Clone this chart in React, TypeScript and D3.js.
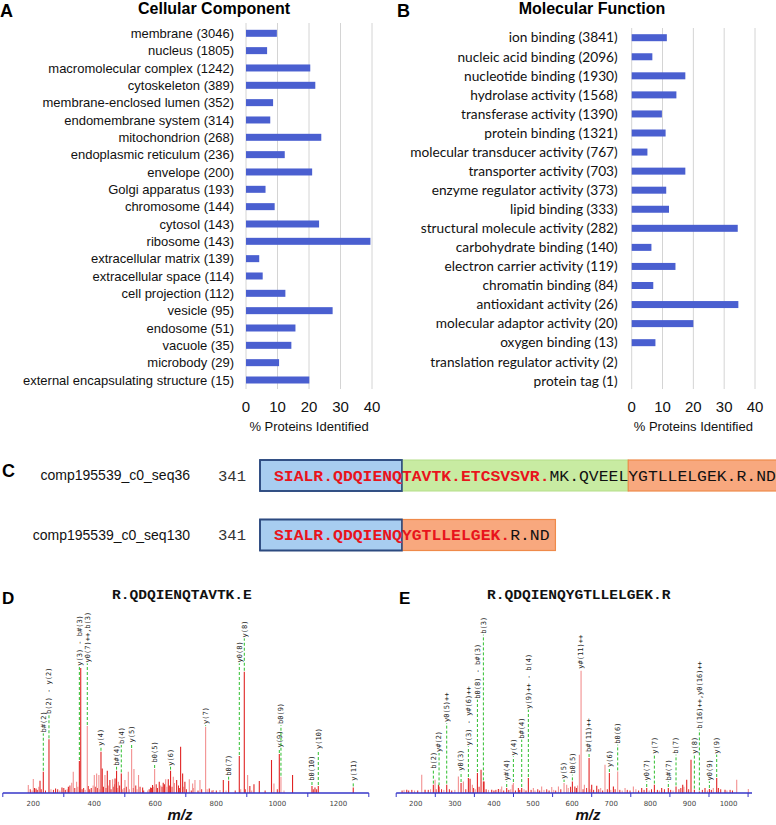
import React from "react";
import * as d3 from "d3";

// ---------- Panel A / B data ----------
const ccCategories = [
  "membrane (3046)", "nucleus (1805)", "macromolecular complex (1242)", "cytoskeleton (389)",
  "membrane-enclosed lumen (352)", "endomembrane system (314)", "mitochondrion (268)",
  "endoplasmic reticulum (236)", "envelope (200)", "Golgi apparatus (193)", "chromosome (144)",
  "cytosol (143)", "ribosome (143)", "extracellular matrix (139)", "extracellular space (114)",
  "cell projection (112)", "vesicle (95)", "endosome (51)", "vacuole (35)", "microbody (29)",
  "external encapsulating structure (15)",
];
const ccValues = [9.8, 6.7, 20.4, 22, 8.6, 7.7, 23.9, 12.3, 21, 6.2, 9.1, 23.2, 39.5, 4.2, 5.3, 12.5, 27.5, 15.7, 14.4, 10.5, 20.1];

const mfCategories = [
  "ion binding (3841)", "nucleic acid binding (2096)", "nucleotide binding (1930)",
  "hydrolase activity (1568)", "transferase activity (1390)", "protein binding (1321)",
  "molecular transducer activity (767)", "transporter activity (703)",
  "enzyme regulator activity (373)", "lipid binding (333)", "structural molecule activity (282)",
  "carbohydrate binding (140)", "electron carrier activity (119)", "chromatin binding (84)",
  "antioxidant activity (26)", "molecular adaptor activity (20)", "oxygen binding (13)",
  "translation regulator activity (2)", "protein tag (1)",
];
const mfValues = [11.4, 6.7, 17.4, 14.5, 9.8, 11, 5.1, 17.4, 11.2, 12.1, 34.4, 6.4, 14.2, 7, 34.6, 20, 7.7, 0, 0];
const pctTicks = [0, 10, 20, 30, 40];

// ---------- Panel C data ----------
const seqNames = ["comp195539_c0_seq36", "comp195539_c0_seq130"];
const seqStart = ["341", "341"];
const seqRed = ["SIALR.QDQIENQTAVTK.ETCSVSVR.", "SIALR.QDQIENQYGTLLELGEK."];
const seqBlack = ["MK.QVEELYGTLLELGEK.R.ND", "R.ND"];
// exon blocks as [fromChar, toChar, kind]
const seqBlocks: [number, number, string][][] = [
  [[0, 13, "blue"], [13, 36, "green"], [36, 52, "orange"]],
  [[0, 13, "blue"], [13, 28.6, "orange"]],
];

// ---------- Panel D data (label, m/z, relative intensity, label level, tone) ----------
const dTitle = "R.QDQIENQTAVTK.E";
const dIons: [string, number, number, number, string][] = [
  ["b#(2)", 232.8, 17, 47.7, "s"],
  ["b(2) - y(2)", 251.4, 43, 62.4, "s"],
  ["y(3) - b#(3)", 351, 25.6, 101, "s"],
  ["y0(7)++,b(3)", 377, 53.6, 103.7, "l"],
  ["y(4)", 421.9, 33, 37, "s"],
  ["b#(4)", 473, 17.9, 21, "s"],
  ["b(4)", 488.5, 15.7, 38.4, "s"],
  ["y(5)", 522.4, 35.2, 39.7, "l"],
  ["b0(5)", 597.8, 19.2, 23.7, "l"],
  ["y(6)", 650, 17.9, 21, "s"],
  ["y(7)", 765, 53, 54.4, "l"],
  ["b0(7)", 840.4, 9.9, 13, "s"],
  ["y0(8)", 875.4, 29.6, 103.7, "s"],
  ["y(8)", 891.8, 97, 123.7, "s"],
  ["y(9)", 1006.6, 31.2, 35.7, "s"],
  ["b0(9)", 1012, 13, 54.4, "l"],
  ["b0(10)", 1113.7, 5.6, 9, "s"],
  ["y(10)", 1134.4, 5.6, 34.4, "s"],
  ["y(11)", 1249, 4.5, 9, "s"],
];
const dPeaks: [number, number, string][] = [
  [183.6, 6.4, "l"], [200, 11.2, "l"], [209, 3.7, "s"], [222, 9.9, "s"], [273, 3.7, "s"],
  [294, 4.5, "s"], [315, 5, "s"], [326, 8.3, "l"], [331, 17, "l"], [342, 9, "l"],
  [355.5, 100, "s"], [380, 5.6, "s"], [400, 14.4, "l"], [407.6, 15.7, "l"], [415, 14.4, "l"],
  [426, 19.7, "s"], [435, 14.4, "l"], [442.6, 17.9, "s"], [451, 10.4, "s"], [460, 11, "l"],
  [468, 11.7, "s"], [479, 9, "l"], [500.5, 10.4, "l"], [511.5, 17, "l"], [530, 19.2, "l"],
  [545, 14.4, "l"], [558.5, 4.5, "s"], [584.7, 4.5, "s"], [591, 6.4, "s"], [613, 9, "s"],
  [626, 8.3, "s"], [634, 11, "l"], [642.6, 11, "s"], [659, 13, "l"], [670, 10.4, "s"],
  [683, 37, "s"], [689.6, 15.7, "s"], [697, 9, "s"], [711.5, 11, "l"], [722.4, 7.7, "l"],
  [730, 10.4, "l"], [746.4, 10.4, "l"], [777, 3.7, "s"], [790, 2.4, "l"], [812, 2.4, "l"],
  [823, 10.4, "s"], [880, 3, "l"], [902.7, 14.4, "l"], [910, 5.6, "s"], [923.5, 7, "s"],
  [941, 9.6, "s"], [981, 26.4, "s"], [989, 7.7, "l"], [1050, 14.4, "s"], [1123.5, 4.5, "s"],
];
const dNoise: [number, number][] = [
  [190, 3], [196, 2], [204, 4], [213, 2.5], [218, 5], [226, 3], [240, 2], [258, 3], [266, 2.5],
  [280, 3], [287, 2], [300, 4], [305, 2.5], [311, 3], [320, 6], [336, 4], [346, 5], [360, 3],
  [365, 4], [370, 2.5], [385, 3], [390, 4], [396, 6], [403, 5], [410, 4], [418, 3], [430, 5],
  [438, 4], [446, 6], [455, 3], [462, 5], [466, 7], [478, 4], [483, 6], [493, 3], [498, 4],
  [505, 5], [515, 3], [528, 4], [536, 6], [540, 3], [550, 5], [562, 2], [575, 2], [580, 3],
  [588, 4], [595, 5], [603, 7], [607, 4], [618, 6], [622, 5], [630, 7], [638, 5], [646, 6],
  [655, 5], [663, 8], [676, 6], [680, 4], [693, 5], [702, 3], [718, 2], [725, 4], [740, 2],
  [752, 3], [770, 3], [786, 2], [800, 2], [832, 2], [862, 2], [895, 3], [916, 2], [960, 2],
  [1000, 3], [1022, 2], [1118, 3], [1129, 3],
];
const dTickMarks = [100, 300, 500, 700, 900, 1100, 1300];
const dTickLabels = [200, 400, 600, 800, 1000, 1200];

// ---------- Panel E data ----------
const eTitle = "R.QDQIENQYGTLLELGEK.R";
const eIons: [string, number, number, number, string][] = [
  ["b(2)", 245, 6.7, 18.7, "s"],
  ["y#(2)", 259.6, 5.3, 32, "s"],
  ["y0(5)++", 279.2, 6.7, 56, "s"],
  ["y0(3)", 315.9, 8, 17, "s"],
  ["y(3) - y#(6)++", 334.6, 12, 37.3, "s"],
  ["b0(8) - b#(3)", 357.7, 16, 74.7, "s"],
  ["b(3)", 373, 9.3, 126.7, "s"],
  ["y#(4)", 432.6, 4, 9.3, "s"],
  ["y(4)", 449.7, 8, 29.3, "l"],
  ["b#(4)", 471, 4, 42.7, "s"],
  ["y(9)++ - b(4)", 488, 12, 66.7, "s"],
  ["y(5)", 579.3, 8, 10.7, "l"],
  ["b0(5)", 600.6, 9.3, 14.7, "s"],
  ["y#(11)++", 622.8, 97.9, 98.7, "l"],
  ["b#(11)++", 643.3, 28, 32, "s"],
  ["y(6)", 695.2, 16, 20, "s"],
  ["b0(6)", 716.5, 17.3, 38.7, "l"],
  ["y0(7)", 790.7, 4, 9.3, "s"],
  ["y(7)", 810.3, 6.7, 30.7, "s"],
  ["b#(7)", 846, 4, 9.3, "s"],
  ["b(7)", 865.7, 5.3, 30.7, "s"],
  ["y(8)", 912.6, 2.7, 30.7, "s"],
  ["b(16)++,y0(16)++", 925.4, 1.3, 50.7, "s"],
  ["y0(9)", 951, 3.2, 9.3, "s"],
  ["y(9)", 969.7, 12, 30.7, "s"],
];
const ePeaks: [number, number, string][] = [
  [177, 2.7, "s"], [215.3, 14.7, "l"], [223.8, 2.7, "s"], [249.4, 10.7, "l"], [258, 6.7, "s"],
  [309, 13.3, "l"], [321.8, 9.3, "l"], [338.9, 11.5, "s"], [344.8, 6.7, "l"], [367, 18.7, "s"],
  [374.7, 9.3, "s"], [394.3, 2.7, "s"], [411.3, 3.2, "s"], [419.8, 5.3, "l"], [447, 6.7, "l"],
  [462.5, 4, "s"], [500.8, 4, "l"], [522, 5.3, "l"], [547.8, 4.8, "l"], [564.9, 5.3, "l"],
  [586, 6.7, "l"], [607, 5.3, "s"], [618.5, 30.7, "l"], [631.3, 6.7, "l"], [650, 6.7, "s"],
  [662.9, 5.9, "s"], [684, 22.7, "l"], [705.5, 5.3, "s"], [735.3, 4, "l"], [756.6, 5.3, "l"],
  [777.9, 4, "s"], [829, 4, "s"], [882.8, 6.7, "s"], [893, 10.7, "s"], [904, 26.7, "s"],
  [939.8, 4, "s"], [961, 4, "l"], [974, 4, "s"], [991, 2.7, "s"], [1020.9, 10.7, "l"],
  [1050.6, 3.2, "l"],
];
const eNoise: [number, number][] = [
  [165, 2], [170, 2.5], [182, 2], [190, 2.5], [197, 2], [205, 2], [232, 2.5], [238, 3], [252, 3],
  [266, 3], [272, 2.5], [286, 3], [292, 2], [300, 2.5], [328, 3], [348, 4], [352, 3], [362, 5],
  [380, 3], [386, 2.5], [400, 2], [405, 2.5], [416, 3], [425, 2], [438, 2.5], [443, 3], [455, 2],
  [466, 2.5], [477, 3], [482, 2], [495, 2.5], [505, 2], [512, 3], [517, 2], [528, 2.5], [535, 3],
  [541, 2], [553, 2.5], [558, 2], [571, 3], [590, 4], [596, 5], [611, 4], [614, 6], [628, 3],
  [637, 4], [646, 3], [655, 2.5], [668, 3], [673, 4], [678, 2], [690, 3], [699, 2.5], [710, 3],
  [722, 2.5], [728, 2], [741, 2.5], [748, 2], [763, 3], [770, 2], [784, 2.5], [797, 2], [803, 3],
  [818, 2.5], [823, 2], [836, 3], [852, 2.5], [858, 2], [873, 3], [878, 4], [886, 5], [898, 3],
  [933, 2.5], [946, 2], [956, 2.5], [980, 3], [996, 2], [1004, 2.5], [1010, 2],
];
const eTickMarks = [150, 250, 350, 450, 550, 650, 750, 850, 950, 1050];
const eTickLabels = [200, 300, 400, 500, 600, 700, 800, 900, 1000];

// ---------- styles ----------
const BAR = "#4a5fd0";
const GRID = "#d4d4d4";
const RED_S = "#e02424";
const RED_L = "#f29090";
const GREEN = "#2fbf2f";
const AXIS_BLUE = "#3636c8";
const ARIAL = "'Liberation Sans', Arial, sans-serif";
const MONO = "'Liberation Mono', 'Courier New', monospace";

type BarProps = {
  cats: string[]; vals: number[]; x0: number; x1: number; yTop: number; yBot: number;
  gridTop: number; labelRight: number; labelFont: string; labelSize: number;
  letter: string; letterX: number; title: string; titleX: number;
};

function BarPanel(p: BarProps) {
  const x = d3.scaleLinear().domain([0, 40]).range([p.x0, p.x1]);
  const y = d3.scalePoint<string>().domain(p.cats).range([p.yTop, p.yBot]);
  const bh = 7;
  return (
    <g>
      <text x={p.letterX} y={17} fontFamily={ARIAL} fontWeight="bold" fontSize={18}>{p.letter}</text>
      <text x={p.titleX} y={14} fontFamily={ARIAL} fontWeight="bold" fontSize={16} textAnchor="middle">{p.title}</text>
      {pctTicks.map((t) => (
        <line key={t} x1={x(t)} x2={x(t)} y1={p.gridTop} y2={389} stroke={GRID} strokeWidth={1} />
      ))}
      {p.cats.map((c, i) => (
        <g key={c}>
          <text x={p.labelRight} y={(y(c) as number)} dy="0.35em" textAnchor="end"
            fontFamily={p.labelFont} fontSize={p.labelSize} fill="#111">{c}</text>
          {p.vals[i] > 0 && (
            <rect x={x(0)} y={(y(c) as number) - bh / 2} width={x(p.vals[i]) - x(0)} height={bh} fill={BAR} />
          )}
        </g>
      ))}
      {pctTicks.map((t) => (
        <text key={t} x={x(t)} y={412} textAnchor="middle" fontFamily={ARIAL} fontSize={15} fill="#111">{t}</text>
      ))}
      <text x={(x(0) + x(40)) / 2} y={431} textAnchor="middle" fontFamily={ARIAL} fontSize={13} fill="#111">% Proteins Identified</text>
    </g>
  );
}

const blockFill: Record<string, [string, string, number]> = {
  blue: ["#a8cdf0", "#2c4a80", 1.6],
  green: ["#c8eba2", "#b4de88", 1],
  orange: ["#f8a87e", "#ef8a4a", 1.2],
};

function SeqPanel() {
  const adv = 9.84;
  const textX = 274;
  const rows = [475.5, 535];
  const bh = 31;
  return (
    <g>
      <text x={2} y={477} fontFamily={ARIAL} fontWeight="bold" fontSize={18}>C</text>
      {rows.map((cy, r) => {
        const cx = (i: number) => textX + i * adv;
        return (
          <g key={r}>
            {seqBlocks[r].map(([a, b, k], j) => {
              const x0 = j === 0 ? 260 : cx(a);
              const x1 = cx(b);
              const [fill, stroke, sw] = blockFill[k];
              return <rect key={j} x={x0} y={cy - bh / 2} width={x1 - x0} height={bh} fill={fill} stroke={stroke} strokeWidth={sw} />;
            })}
            {seqBlocks[r].filter((bk) => bk[2] === "blue").map(([a, b], j) => (
              <rect key={"o" + j} x={260} y={cy - bh / 2} width={cx(b) - 260} height={bh} fill="none" stroke="#2c4a80" strokeWidth={1.6} />
            ))}
            <text x={190} y={cy} dy="0.35em" textAnchor="end" fontFamily={ARIAL} fontSize={14} fill="#111">{seqNames[r]}</text>
            <text x={218} y={cy} dy="0.35em" fontFamily={MONO} fontSize={15} fill="#333"
              textLength={3 * adv * 0.95} lengthAdjust="spacingAndGlyphs">{seqStart[r]}</text>
            <text x={cx(0)} y={cy} dy="0.35em" fontFamily={MONO} fontWeight="bold" fontSize={15} fill="#e8141c"
              textLength={seqRed[r].length * adv} lengthAdjust="spacingAndGlyphs">{seqRed[r]}</text>
            <text x={cx(seqRed[r].length)} y={cy} dy="0.35em" fontFamily={MONO} fontSize={15} fill="#111"
              textLength={seqBlack[r].length * adv} lengthAdjust="spacingAndGlyphs">{seqBlack[r]}</text>
          </g>
        );
      })}
    </g>
  );
}

type SpecProps = {
  letter: string; letterX: number; title: string; titleX: number;
  domain: [number, number]; range: [number, number];
  ions: [string, number, number, number, string][];
  peaks: [number, number, string][]; noise: [number, number][];
  tickMarks: number[]; tickLabels: number[]; mzX: number;
};

function Spectrum(p: SpecProps) {
  const x = d3.scaleLinear().domain(p.domain).range(p.range);
  const y = d3.scaleLinear().domain([0, 100]).range([793, 668]);
  const base = y(0);
  const tone = (t: string) => (t === "l" ? RED_L : RED_S);
  return (
    <g>
      <text x={p.letterX} y={604} fontFamily={ARIAL} fontWeight="bold" fontSize={17}>{p.letter}</text>
      <text x={p.titleX} y={599} fontFamily={MONO} fontWeight="bold" fontSize={12} fill="#111"
        textLength={p.title.length * 8.74} lengthAdjust="spacingAndGlyphs">{p.title}</text>
      {p.noise.map(([m, v], i) => (
        <line key={"n" + i} x1={x(m)} x2={x(m)} y1={base} y2={y(v)} stroke={i % 3 === 1 ? RED_L : RED_S} strokeWidth={1} />
      ))}
      {p.peaks.map(([m, v, t], i) => (
        <line key={"p" + i} x1={x(m)} x2={x(m)} y1={base} y2={y(v)} stroke={tone(t)} strokeWidth={1.1} />
      ))}
      {p.ions.map(([lab, m, v, lvl, t], i) => {
        const xx = x(m);
        const yl = y(lvl);
        return (
          <g key={"i" + i}>
            <line x1={xx} x2={xx} y1={base} y2={y(v)} stroke={tone(t)} strokeWidth={1.1} />
            {lvl > v + 1 && (
              <line x1={xx} x2={xx} y1={y(v) - 1} y2={yl} stroke={GREEN} strokeWidth={1} strokeDasharray="3,2" />
            )}
            <text transform={`translate(${xx + 2.4},${yl - 1}) rotate(-90)`} fontFamily="'DejaVu Sans Mono', monospace"
              fontSize={7} fill="#222">{lab}</text>
          </g>
        );
      })}
      <line x1={p.range[0]} x2={p.range[1]} y1={base} y2={base} stroke={AXIS_BLUE} strokeWidth={1.5} />
      {p.tickMarks.map((t) => (
        <line key={"t" + t} x1={x(t)} x2={x(t)} y1={base} y2={base + 4} stroke={AXIS_BLUE} strokeWidth={1} />
      ))}
      {p.tickLabels.map((t) => (
        <text key={"l" + t} x={x(t)} y={805.5} textAnchor="middle" fontFamily="'DejaVu Sans', sans-serif" fontSize={7} fill="#444">{t}</text>
      ))}
      <text x={p.mzX} y={820} textAnchor="middle" fontFamily={ARIAL} fontWeight="bold" fontStyle="italic" fontSize={15} fill="#111">m/z</text>
    </g>
  );
}

export default function App() {
  return (
    <svg width={776} height={825} viewBox="0 0 776 825"
      style={{ position: "absolute", left: 0, top: 0, background: "#fff" }}>
      <rect width={776} height={825} fill="#fff" />
      <BarPanel cats={ccCategories} vals={ccValues} x0={246} x1={372} yTop={33.3} yBot={380}
        gridTop={23} labelRight={234} labelFont={ARIAL} labelSize={13}
        letter="A" letterX={0} title="Cellular Component" titleX={214} />
      <BarPanel cats={mfCategories} vals={mfValues} x0={631.7} x1={755} yTop={37.7} yBot={380.8}
        gridTop={28} labelRight={617.7} labelFont="Lato, 'Open Sans', sans-serif" labelSize={13.7}
        letter="B" letterX={397} title="Molecular Function" titleX={592} />
      <SeqPanel />
      <Spectrum letter="D" letterX={2} title={dTitle} titleX={112} domain={[100, 1300]} range={[2.8, 368.8]}
        ions={dIons} peaks={dPeaks} noise={dNoise} tickMarks={dTickMarks} tickLabels={dTickLabels} mzX={180} />
      <Spectrum letter="E" letterX={399} title={eTitle} titleX={487} domain={[150, 1060]} range={[396.2, 752]}
        ions={eIons} peaks={ePeaks} noise={eNoise} tickMarks={eTickMarks} tickLabels={eTickLabels} mzX={588} />
    </svg>
  );
}
